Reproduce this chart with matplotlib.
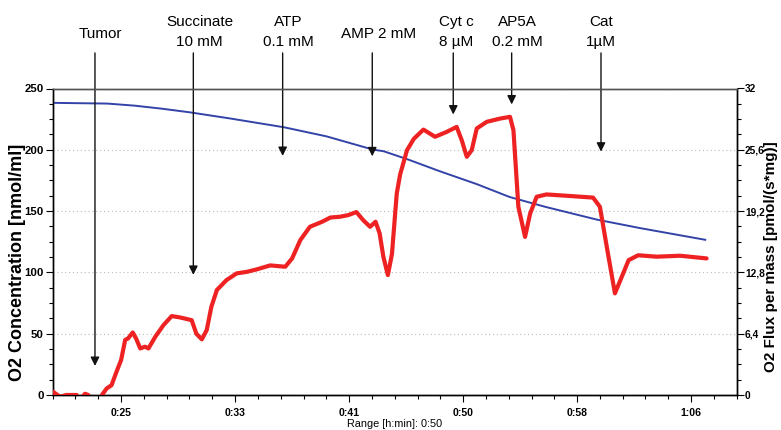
import matplotlib
matplotlib.use("Agg")
import matplotlib.pyplot as plt
from matplotlib.ticker import MultipleLocator, FuncFormatter
from matplotlib.transforms import blended_transform_factory

# ---- data ----
# O2 concentration [nmol/ml] (left axis), time in minutes
conc_t = [20.0, 22.0, 24.0, 26.0, 28.0, 30.0, 33.0, 36.9, 40.0, 43.4, 44.2, 46.0,
          48.3, 51.0, 53.4, 56.0, 59.8, 63.0, 67.7]
conc_v = [238.3, 238.0, 237.7, 236.0, 233.5, 230.6, 225.5, 218.4, 211.0, 200.2, 198.8, 192.0,
          182.5, 172.0, 161.5, 153.5, 143.0, 136.0, 126.6]

# O2 flux per mass [pmol/(s*mg)] (right axis)
flux_t = [20.0, 20.54, 21.0, 21.75, 22.0, 22.36, 22.6, 22.85, 23.1, 23.34, 23.6, 23.95,
          24.3, 24.7, 25.0, 25.3, 25.5, 25.85, 26.1, 26.4, 26.75, 27.0, 27.5, 28.1,
          28.7, 29.3, 30.16, 30.5, 30.9, 31.26, 31.6, 32.0, 32.7, 33.45, 34.2, 34.9,
          35.9, 37.0, 37.5, 38.1, 38.8, 39.7, 40.3, 41.0, 41.6, 42.2, 42.7, 43.2,
          43.6, 43.9, 44.17, 44.5, 44.8, 45.15, 45.4, 45.9, 46.4, 47.1, 47.95, 48.8,
          49.53, 49.9, 50.27, 50.63, 51.0, 51.73, 52.7, 53.43, 53.68, 54.04, 54.53, 54.9,
          55.38, 56.1, 57.57, 59.5, 60.0, 60.5, 61.1, 61.6, 62.1, 62.8, 64.15, 65.86, 67.8]
flux_v = [0.35, -0.18, 0.0, 0.0, -0.5, 0.13, 0.0, -0.69, -0.77, -1.02, 0.0, 0.69,
          1.02, 2.56, 3.65, 5.76, 5.89, 6.53, 5.89, 4.86, 5.04, 4.86, 6.08, 7.30,
          8.24, 8.10, 7.81, 6.40, 5.81, 6.78, 9.22, 10.96, 11.99, 12.70, 12.86, 13.11,
          13.53, 13.39, 14.26, 16.17, 17.56, 18.09, 18.53, 18.61, 18.78, 19.10, 18.25, 17.56,
          18.09, 16.87, 14.44, 12.52, 14.72, 21.04, 23.04, 25.56, 26.75, 27.71, 26.96, 27.47,
          27.99, 26.60, 24.87, 25.56, 27.83, 28.52, 28.86, 29.04, 27.65, 19.65, 16.51, 18.94,
          20.70, 20.94, 20.80, 20.61, 19.65, 15.49, 10.61, 12.34, 14.08, 14.59, 14.44, 14.54, 14.26]

# injection events
event_labels = ["Tumor", "Succinate\n10 mM", "ATP\n0.1 mM", "AMP 2 mM",
                "Cyt c\n8 \u00b5M", "AP5A\n0.2 mM", "Cat\n1\u00b5M"]
event_t = [23.09, 30.28, 36.81, 43.36, 49.28, 53.55, 60.08]
event_tip = [23.7, 98.0, 195.0, 194.7, 228.8, 237.0, 198.5]   # nmol/ml scale
label_t = [23.46, 30.75, 37.25, 43.8, 49.5, 54.0, 60.1]

# ---- figure ----
W, H = 781, 430
fig = plt.figure(figsize=(W / 100, H / 100), dpi=100)
ax = fig.add_axes([52.7 / W, 1 - 395 / H, (736.7 - 52.7) / W, (395 - 88.5) / H])
ax2 = ax.twinx()

sans = ["Liberation Sans", "DejaVu Sans"]

ax.plot(conc_t, conc_v, color="#3343a8", lw=1.4, zorder=3)
ax2.plot(flux_t, flux_v, color="#ee2222", lw=3.0, solid_joinstyle="round",
         solid_capstyle="round", zorder=4)

ax.set_xlim(20, 70)
ax.set_ylim(0, 250)
ax2.set_ylim(0, 32)

ax.xaxis.set_major_locator(MultipleLocator(25 / 3))
ax.xaxis.set_minor_locator(MultipleLocator(5 / 3))


def tfmt(m, pos):
    m = m + 1e-6
    return f"{int(m // 60)}:{int(m % 60):02d}"


ax.xaxis.set_major_formatter(FuncFormatter(tfmt))
ax.yaxis.set_major_locator(MultipleLocator(50))
ax.yaxis.set_minor_locator(MultipleLocator(12.5))
ax2.yaxis.set_major_locator(MultipleLocator(6.4))
ax2.yaxis.set_minor_locator(MultipleLocator(1.6))


def rfmt(v, pos):
    s = f"{v:.1f}"
    if s.endswith(".0"):
        s = s[:-2]
    return s.replace(".", ",")


ax2.yaxis.set_major_formatter(FuncFormatter(rfmt))

ax.grid(axis="y", which="major", color="#bbbbbb", ls=(0, (1, 2.5)), lw=0.8)

for a in (ax, ax2):
    a.tick_params(which="major", length=5, width=0.8, color="black")
    a.tick_params(which="minor", length=3, width=0.8, color="black")
    for s in a.spines.values():
        s.set_linewidth(1.0)
    a.spines["top"].set_color("#555555")
ax.tick_params(axis="x", which="both", pad=4)
ax.tick_params(axis="y", pad=1.5)
ax2.tick_params(axis="y", pad=1.0)

for lbl in ax.get_xticklabels():
    lbl.set_fontfamily(sans)
    lbl.set_fontweight("bold")
    lbl.set_fontsize(7.6)
for lbl in ax.get_yticklabels():
    lbl.set_fontfamily(sans)
    lbl.set_fontweight("bold")
    lbl.set_fontsize(8.2)
for lbl in ax2.get_yticklabels():
    lbl.set_fontfamily(sans)
    lbl.set_fontweight("bold")
    lbl.set_fontsize(7.3)

# axis titles (positions in axes fractions)
ax.text(-0.0515, 0.434, "O2 Concentration [nmol/ml]", transform=ax.transAxes,
        rotation=90, ha="center", va="center", family=sans, fontweight="bold",
        fontsize=13)
ax.text(1.0505, 0.45, "O2 Flux per mass [pmol/(s*mg)]", transform=ax.transAxes,
        rotation=90, ha="center", va="center", family=sans, fontweight="bold",
        fontsize=11)
ax.set_xlabel("Range [h:min]: 0:50", family=sans, fontsize=7.8, labelpad=1)

# annotations
trans_lab = blended_transform_factory(ax.transData, fig.transFigure)
for lab, t, tip, lt in zip(event_labels, event_t, event_tip, label_t):
    ax.annotate("", xy=(t, tip), xytext=(t, 279), xycoords="data", textcoords="data",
                annotation_clip=False,
                arrowprops=dict(arrowstyle="-|>", color="#111111", lw=1.0,
                                mutation_scale=13, shrinkA=0, shrinkB=0), zorder=5)
    lines = lab.split("\n")
    ys = [33.5] if len(lines) == 1 else [22.0, 42.0]
    for line, ypx in zip(lines, ys):
        ax.text(lt, 1 - ypx / H, line, transform=trans_lab, ha="center", va="center",
                fontsize=11, family=sans, clip_on=False)

fig.savefig("out.png", dpi=100)
